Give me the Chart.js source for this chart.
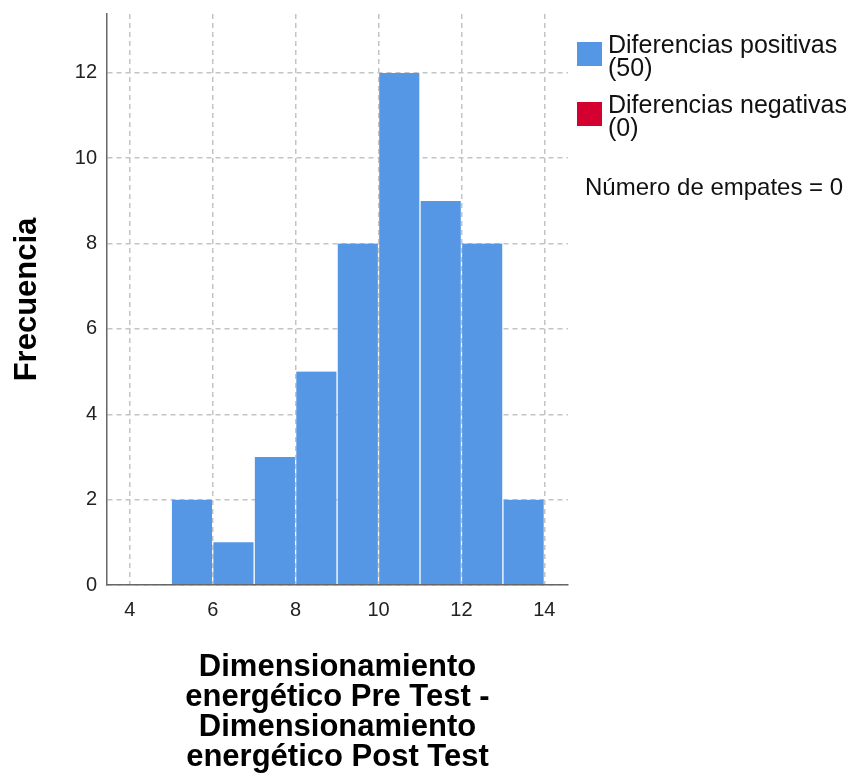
<!DOCTYPE html>
<html>
<head>
    <title>Histograma de diferencias</title>
    <script src="https://cdn.jsdelivr.net/npm/chart.js"></script>
    <style>
        body { margin: 0; background: #fff; }
    </style>
</head>
<body>
    <canvas id="histChart" width="850" height="776"></canvas>
    <script>
        // datos
        const binCenters = [4.5, 5.5, 6.5, 7.5, 8.5, 9.5, 10.5, 11.5, 12.5, 13.5];
        const positiveCounts = [0, 2, 1, 3, 5, 8, 12, 9, 8, 2];
        const negativeCounts = [0, 0, 0, 0, 0, 0, 0, 0, 0, 0];
        const xTicks = [4, 6, 8, 10, 12, 14];
        const yTicks = [0, 2, 4, 6, 8, 10, 12];
        const seriesNames = ['Diferencias positivas', 'Diferencias negativas'];
        const tiesCount = 0;
        const xTitle = ['Dimensionamiento', 'energético Pre Test -', 'Dimensionamiento', 'energético Post Test'];
        const yTitle = 'Frecuencia';

        const FONT = "'Liberation Sans', Arial, sans-serif";
        const total = arr => arr.reduce((a, b) => a + b, 0);

        // leyenda a la derecha, como en SPSS
        const sideLegend = {
            id: 'sideLegend',
            afterDraw(chart) {
                const ctx = chart.ctx;
                ctx.save();
                ctx.textBaseline = 'middle';
                ctx.textAlign = 'left';
                ctx.font = '25px ' + FONT;
                chart.data.datasets.forEach((ds, i) => {
                    const y0 = 46 + i * 60;
                    ctx.fillStyle = ds.backgroundColor;
                    ctx.fillRect(577, y0 - 4, 25, 24);
                    ctx.fillStyle = '#111';
                    ctx.fillText(ds.label, 608, y0);
                    ctx.fillText('(' + total(ds.data.map(d => d.y)) + ')', 608, y0 + 23);
                });
                ctx.font = '24px ' + FONT;
                ctx.fillText('Número de empates = ' + tiesCount, 585, 188);
                ctx.restore();
            }
        };

        const gridStyle = { color: '#c4c4c4', lineWidth: 1.5, drawTicks: false, offset: false };

        const ctx = document.getElementById('histChart').getContext('2d');
        const histChart = new Chart(ctx, {
            type: 'bar',
            data: {
                datasets: [{
                    label: seriesNames[0],
                    data: binCenters.map((x, i) => ({ x: x, y: positiveCounts[i] })),
                    backgroundColor: '#5596e5',
                    borderColor: 'rgba(255,255,255,0)',
                    borderWidth: { left: 1, right: 1, top: 0, bottom: 0 },
                    barPercentage: 1,
                    categoryPercentage: 1,
                    grouped: false
                }, {
                    label: seriesNames[1],
                    data: binCenters.map((x, i) => ({ x: x, y: negativeCounts[i] })),
                    backgroundColor: '#d4002f',
                    borderWidth: 0,
                    barPercentage: 1,
                    categoryPercentage: 1,
                    grouped: false
                }]
            },
            options: {
                responsive: false,
                animation: false,
                layout: { padding: { top: 14, right: 282, left: 0, bottom: 0 } },
                plugins: {
                    legend: { display: false },
                    tooltip: { enabled: false }
                },
                scales: {
                    x: {
                        type: 'linear',
                        offset: false,
                        min: 3.45,
                        max: 14.57,
                        afterBuildTicks: s => { s.ticks = xTicks.map(v => ({ value: v })); },
                        afterFit: s => { s.height = 191; },
                        grid: gridStyle,
                        border: { display: true, color: '#666', width: 1.5, dash: [5, 4], z: 1 },
                        ticks: {
                            font: { family: FONT, size: 20 },
                            color: '#222',
                            padding: 13,
                            maxRotation: 0
                        },
                        title: {
                            display: true,
                            text: xTitle,
                            color: '#000',
                            font: { family: FONT, size: 31, weight: 'bold', lineHeight: '30px' },
                            padding: { top: 0, bottom: 4 }
                        }
                    },
                    y: {
                        min: 0,
                        max: 13.38,
                        afterBuildTicks: s => { s.ticks = yTicks.map(v => ({ value: v })); },
                        afterFit: s => { s.width = 107; s.paddingTop = 0; s.paddingBottom = 0; },
                        grid: gridStyle,
                        border: { display: true, color: '#666', width: 1.5, dash: [5, 4], z: 1 },
                        ticks: {
                            font: { family: FONT, size: 20 },
                            color: '#222',
                            padding: 10
                        },
                        title: {
                            display: true,
                            text: yTitle,
                            color: '#000',
                            font: { family: FONT, size: 31, weight: 'bold', lineHeight: '30px' },
                            padding: { top: 12, bottom: 0 }
                        }
                    }
                }
            },
            plugins: [sideLegend]
        });
    </script>
</body>
</html>
